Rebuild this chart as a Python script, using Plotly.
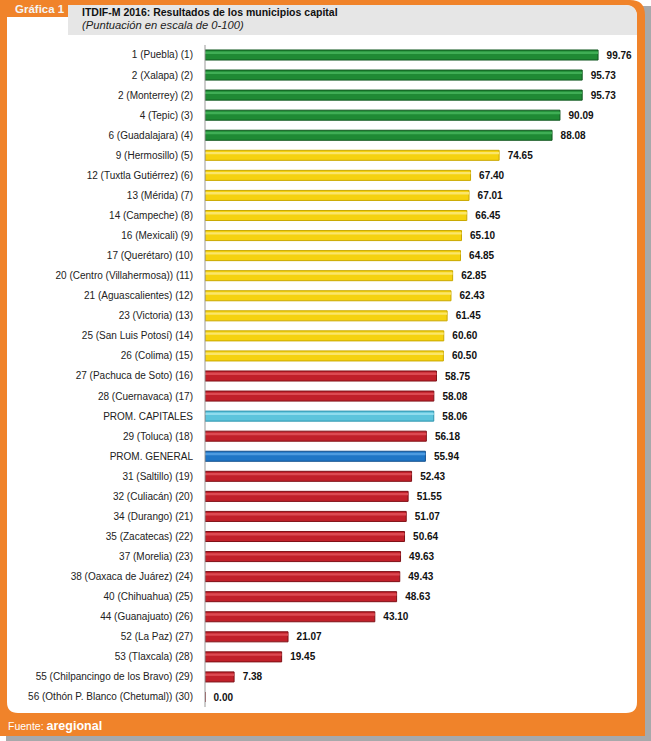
import plotly.graph_objects as go

W, H = 651, 741

labels = [
    "1 (Puebla) (1)", "2 (Xalapa) (2)", "2 (Monterrey) (2)", "4 (Tepic) (3)",
    "6 (Guadalajara) (4)", "9 (Hermosillo) (5)", "12 (Tuxtla Gutiérrez) (6)",
    "13 (Mérida) (7)", "14 (Campeche) (8)", "16 (Mexicali) (9)",
    "17 (Querétaro) (10)", "20 (Centro (Villahermosa)) (11)",
    "21 (Aguascalientes) (12)", "23 (Victoria) (13)",
    "25 (San Luis Potosí) (14)", "26 (Colima) (15)", "27 (Pachuca de Soto) (16)",
    "28 (Cuernavaca) (17)", "PROM. CAPITALES", "29 (Toluca) (18)",
    "PROM. GENERAL", "31 (Saltillo) (19)", "32 (Culiacán) (20)",
    "34 (Durango) (21)", "35 (Zacatecas) (22)", "37 (Morelia) (23)",
    "38 (Oaxaca de Juárez) (24)", "40 (Chihuahua) (25)", "44 (Guanajuato) (26)",
    "52 (La Paz) (27)", "53 (Tlaxcala) (28)",
    "55 (Chilpancingo de los Bravo) (29)",
    "56 (Othón P. Blanco (Chetumal)) (30)",
]
values = [
    99.76, 95.73, 95.73, 90.09, 88.08, 74.65, 67.40, 67.01, 66.45, 65.10,
    64.85, 62.85, 62.43, 61.45, 60.60, 60.50, 58.75, 58.08, 58.06, 56.18,
    55.94, 52.43, 51.55, 51.07, 50.64, 49.63, 49.43, 48.63, 43.10, 21.07,
    19.45, 7.38, 0.00,
]
groups = (["top"] * 5 + ["mid"] * 11 + ["low"] * 2 + ["capitales", "low", "general"]
          + ["low"] * 12)

colors = {"top": "#1f8a34", "mid": "#f5d20f", "low": "#c1202a",
          "capitales": "#5cc4dc", "general": "#1f76c6"}
edges = {"top": "#11561f", "mid": "#c9a800", "low": "#7e1117",
         "capitales": "#2e93ad", "general": "#124f8c"}
shine = {"top": "#3fae55", "mid": "#fbe66a", "low": "#dc4a52",
         "capitales": "#8fdcee", "general": "#4d9be0"}

orange = "#f0832a"
font = "Liberation Sans, Arial"
n = len(labels)
y_top, y_bot = 55, 697
step = (y_bot - y_top) / (n - 1)
dom = [1 - (y_bot + step / 2) / H, 1 - (y_top - step / 2) / H]
x0px, x100px = 205, 599


def px(x):
    return x / W


def py(y):
    return 1 - y / H


fig = go.Figure()
fig.add_trace(go.Bar(
    y=labels, x=values, orientation="h", width=0.5,
    marker=dict(color=[colors[g] for g in groups],
                line=dict(color=[edges[g] for g in groups], width=1)),
    text=[f"\u00a0\u00a0<b>{v:.2f}</b>" for v in values], textposition="outside",
    constraintext="none",
    textfont=dict(family=font, size=10, color="#111"),
    cliponaxis=False, hoverinfo="x+y",
))
# thin highlight on each bar to hint at the cylinder shading
fig.add_trace(go.Bar(
    y=labels, x=values, orientation="h", width=0.12, offset=-0.17,
    marker=dict(color=[shine[g] for g in groups], line_width=0),
    hoverinfo="skip",
))

shapes = [
    # outer shadow
    dict(type="rect", xref="paper", yref="paper", x0=px(6), x1=px(651), y0=py(741), y1=py(6),
         fillcolor="#a7a9ab", line_width=0, layer="below"),
    # orange frame
    dict(type="path", xref="paper", yref="paper",
         path=f"M {px(0)} {py(0)} L {px(630)} {py(0)} Q {px(645)} {py(0)} {px(645)} {py(15)} "
              f"L {px(645)} {py(736)} L {px(0)} {py(736)} Z",
         fillcolor=orange, line_width=0, layer="below"),
    # white inner
    dict(type="path", xref="paper", yref="paper",
         path=f"M {px(7)} {py(17)} L {px(68)} {py(17)} L {px(68)} {py(5)} L {px(625)} {py(5)} "
              f"Q {px(637)} {py(5)} {px(637)} {py(17)} L {px(637)} {py(702)} "
              f"Q {px(637)} {py(713)} {px(626)} {py(713)} L {px(18)} {py(713)} "
              f"Q {px(7)} {py(713)} {px(7)} {py(702)} Z",
         fillcolor="white", line_width=0, layer="below"),
    # grey header band
    dict(type="path", xref="paper", yref="paper",
         path=f"M {px(68)} {py(5)} L {px(625)} {py(5)} Q {px(637)} {py(5)} {px(637)} {py(17)} "
              f"L {px(637)} {py(35)} L {px(68)} {py(35)} Z",
         fillcolor="#e6e6e6", line_width=0, layer="below"),
    # axis line
    dict(type="line", xref="paper", yref="paper", x0=px(x0px), x1=px(x0px),
         y0=dom[0], y1=dom[1], line=dict(color="#9a9a9a", width=1)),
]

annotations = [
    dict(x=px(13), y=py(9), xref="paper", yref="paper", xanchor="left", yanchor="middle",
         text="<b>Gráfica 1</b>", showarrow=False,
         font=dict(family=font, size=11.5, color="#f4f4f4")),
    dict(x=px(80), y=py(12), xref="paper", yref="paper", xanchor="left", yanchor="middle",
         text="<b>ITDIF-M 2016: Resultados de los municipios capital</b>", showarrow=False,
         font=dict(family=font, size=10.5, color="#111")),
    dict(x=px(80), y=py(25), xref="paper", yref="paper", xanchor="left", yanchor="middle",
         text="<i>(Puntuación en escala de 0-100)</i>", showarrow=False,
         font=dict(family=font, size=11.2, color="#222")),
    dict(x=px(6), y=py(726), xref="paper", yref="paper", xanchor="left", yanchor="middle",
         text="Fuente: <b><span style='font-size:12.5px'>aregional</span></b>", showarrow=False,
         font=dict(family=font, size=10.5, color="white")),
]

fig.update_layout(
    width=W, height=H,
    margin=dict(l=0, r=0, t=0, b=0),
    paper_bgcolor="white", plot_bgcolor="rgba(0,0,0,0)",
    showlegend=False, barmode="overlay",
    font=dict(family=font, size=10, color="#222"),
    xaxis=dict(domain=[px(x0px), px(x100px)], range=[0, 100], visible=False, fixedrange=True),
    yaxis=dict(domain=dom, autorange=False, range=[n - 0.5, -0.5], showgrid=False,
               showline=False, ticks="", ticklabelstandoff=11, fixedrange=True,
               tickfont=dict(family=font, size=10, color="#222")),
    shapes=shapes, annotations=annotations,
)

fig.write_html("out.html", config={"displayModeBar": False},
               post_script="document.body.style.margin='0px';document.body.style.overflow='hidden';")
